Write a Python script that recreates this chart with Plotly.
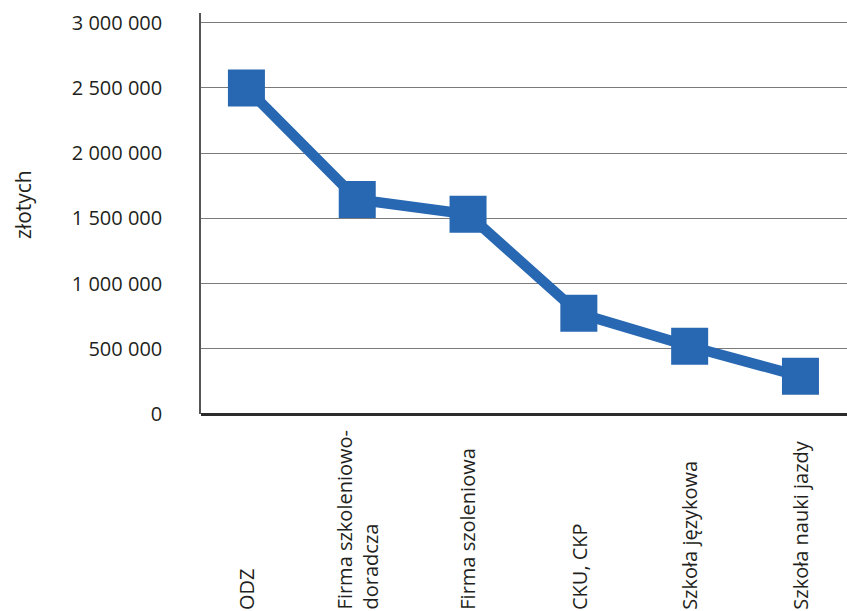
import plotly.graph_objects as go

categories = ["ODZ", "Firma szkoleniowo-<br>doradcza", "Firma szoleniowa", "CKU, CKP",
              "Szkoła językowa", "Szkoła nauki jazdy"]
values = [2500000, 1645000, 1531000, 772000, 519000, 289000]
tick_vals = [0, 500000, 1000000, 1500000, 2000000, 2500000, 3000000]
tick_text = ["0", "500 000", "1 000 000", "1 500 000", "2 000 000", "2 500 000", "3 000 000"]
y_title = "złotych"

FONT = "Open Sans"
BLUE = "#2868b2"

fig = go.Figure()
fig.add_trace(go.Scatter(
    x=list(range(len(categories))), y=values, mode="lines+markers",
    line=dict(color=BLUE, width=10.5),
    marker=dict(symbol="square", size=37, color=BLUE, line=dict(width=0)),
    hoverinfo="skip", showlegend=False,
))

for i, c in enumerate(categories):
    fig.add_annotation(
        x=i, xref="x", y=-0.493, yref="paper", text=c, textangle=-90,
        showarrow=False, xanchor="center", yanchor="bottom", align="left",
        font=dict(family=FONT, size=20, color="#231f20"),
    )

fig.add_annotation(
    x=(23 - 201) / 646, xref="paper", y=(414 - 205) / 401, yref="paper", text=y_title,
    textangle=-90, showarrow=False, xanchor="center", yanchor="middle",
    font=dict(family=FONT, size=21, color="#231f20"),
)

fig.update_layout(
    width=847, height=611,
    margin=dict(l=201, r=0, t=13, b=197),
    paper_bgcolor="white", plot_bgcolor="white",
    font=dict(family=FONT, size=20, color="#231f20"),
    xaxis=dict(range=[-0.41, 5.42], showticklabels=False, showgrid=False,
               zeroline=False, showline=False, fixedrange=True),
    yaxis=dict(range=[0, 3075000], tickmode="array", tickvals=tick_vals,
               ticktext=tick_text, showgrid=True, gridcolor="#7a7a7a", gridwidth=1,
               zeroline=True, zerolinecolor="#2b2b2b", zerolinewidth=2.5,
               showline=True, linecolor="#555555", linewidth=1.5,
               ticks="", ticklabelstandoff=33, fixedrange=True),
)

fig.write_html("out.html")
